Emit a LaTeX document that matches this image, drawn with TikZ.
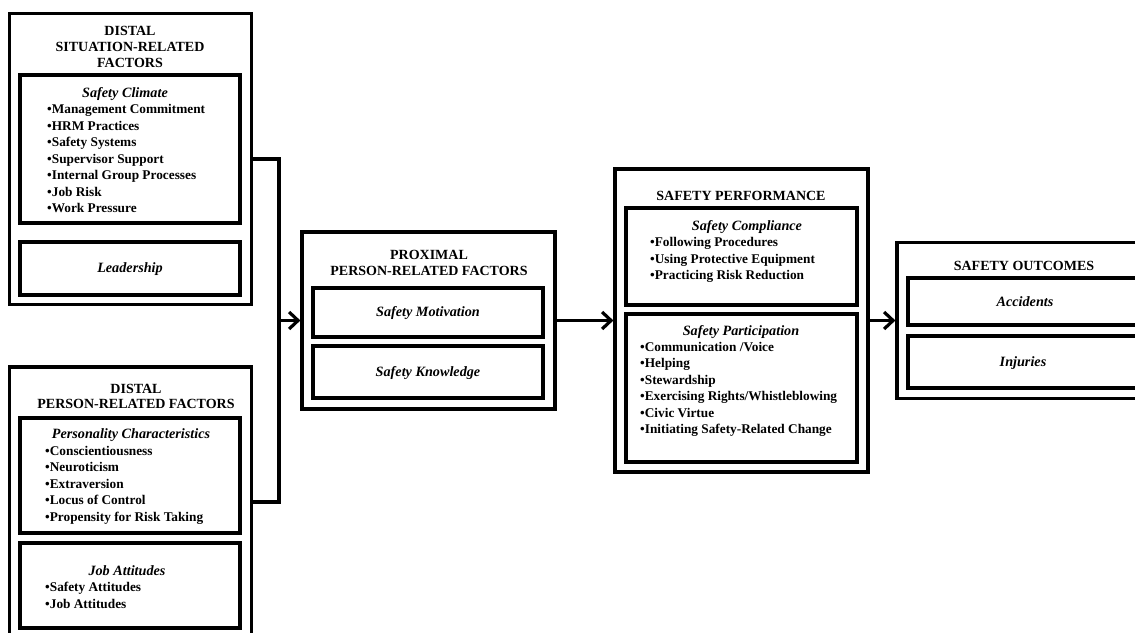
\documentclass[tikz,border=0pt]{standalone}
\usepackage{fontspec}
\setmainfont{Liberation Serif}
\usetikzlibrary{arrows.meta}
\begin{document}
\begin{tikzpicture}[x=1pt,y=-1pt,
  every node/.style={font=\fontsize{13.3}{16.5}\selectfont\bfseries, inner sep=0pt},
  frame/.style={draw, line width=3.2pt, minimum width=#1, rectangle},
  ttl/.style={align=center, font=\fontsize{14}{15.8}\selectfont\bfseries},
  sub/.style={font=\fontsize{14.2}{16.5}\selectfont\bfseries\itshape},
  lst/.style={align=left, anchor=west},
  conn/.style={line width=3.2pt},
  arr/.style={conn, -{Straight Barb[length=9pt,width=17pt]}}]
\clip (0,0) rectangle (1135,632);
\fill[white] (0,0) rectangle (1135,632);
% frames
\node[frame=242pt, minimum height=291pt] (dsrf) at (130.5,159) {};
\node[frame=220pt, minimum height=148pt] (sc) at (130,149) {};
\node[frame=220pt, minimum height=53pt] (lead) at (130,268.5) {};
\node[frame=242pt, minimum height=270pt] (dprf) at (130.5,502) {};
\node[frame=220pt, minimum height=115pt] (pers) at (130,475.5) {};
\node[frame=220pt, minimum height=85pt] (job) at (130,585.5) {};
\node[frame=253pt, minimum height=177pt] (pprf) at (428.5,320.5) {};
\node[frame=230pt, minimum height=49pt] (mot) at (428,312.5) {};
\node[frame=230pt, minimum height=52pt] (know) at (428,372) {};
\node[frame=253pt, minimum height=303pt] (sp) at (741.5,320.5) {};
\node[frame=231pt, minimum height=97pt] (comp) at (741.5,256.5) {};
\node[frame=231pt, minimum height=148pt] (part) at (741.5,388) {};
\node[frame=255pt, minimum height=156pt] (so) at (1024.5,320.5) {};
\node[frame=233pt, minimum height=47pt] (acc) at (1024.5,301.5) {};
\node[frame=233pt, minimum height=52pt] (inj) at (1024.5,362) {};
% texts
\node[ttl] (dsrfT) at (130,47) {DISTAL\\SITUATION-RELATED\\FACTORS};
\node[sub] (scT) at (125,94.3) {Safety Climate};
\node[lst] (scL) at (47,158.8) {•Management Commitment\\•HRM Practices\\•Safety Systems\\•Supervisor Support\\•Internal Group Processes\\•Job Risk\\•Work Pressure};
\node[sub] (leadT) at (130,269) {Leadership};
\node[ttl] (dprfT) at (136,396.5) {DISTAL\\PERSON-RELATED FACTORS};
\node[sub] (persT) at (131,435) {Personality Characteristics};
\node[lst] (persL) at (45,485) {•Conscientiousness\\•Neuroticism\\•Extraversion\\•Locus of Control\\•Propensity for Risk Taking};
\node[sub] (jobT) at (127,571) {Job Attitudes};
\node[lst] (jobL) at (45,595.5) {•Safety Attitudes\\•Job Attitudes};
\node[ttl] (pprfT) at (429,263.3) {PROXIMAL\\PERSON-RELATED FACTORS};
\node[sub] (motT) at (428,313) {Safety Motivation};
\node[sub] (knowT) at (428,373) {Safety Knowledge};
\node[ttl] (spT) at (741,196) {SAFETY PERFORMANCE};
\node[sub] (compT) at (747,227) {Safety Compliance};
\node[lst] (compL) at (650,260) {•Following Procedures\\•Using Protective Equipment\\•Practicing Risk Reduction};
\node[sub] (partT) at (741,332) {Safety Participation};
\node[lst] (partL) at (640,389.2) {•Communication /Voice\\•Helping\\•Stewardship\\•Exercising Rights/Whistleblowing\\•Civic Virtue\\•Initiating Safety-Related Change};
\node[ttl] (soT) at (1024,266) {SAFETY OUTCOMES};
\node[sub] (accT) at (1025,302) {Accidents};
\node[sub] (injT) at (1023,363) {Injuries};
% connectors
\coordinate (jx) at (279,320.5);
\draw[conn] (dsrf.east) -- (dsrf.east -| jx) -- (dprf.east -| jx) -- (dprf.east);
\draw[arr] (jx) -- (pprf.west);
\draw[arr] (pprf.east) -- (sp.west);
\draw[arr] (sp.east) -- (so.west);
\end{tikzpicture}
\end{document}
